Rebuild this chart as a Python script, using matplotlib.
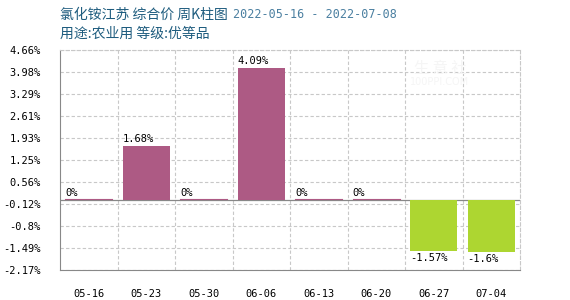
import matplotlib
matplotlib.use("Agg")
import matplotlib.pyplot as plt
import numpy as np

categories = ["05-16", "05-23", "05-30", "06-06", "06-13", "06-20", "06-27", "07-04"]
values = [0.0, 1.68, 0.0, 4.09, 0.0, 0.0, -1.57, -1.6]
labels = ["0%", "1.68%", "0%", "4.09%", "0%", "0%", "-1.57%", "-1.6%"]
ymin, ymax = -2.17, 4.66
title1 = "氯化铵江苏 综合价 周K柱图"
title_dates = "2022-05-16 - 2022-07-08"
title2 = "用途:农业用 等级:优等品"

pink = "#AD5A84"
green = "#ADD631"
mono = ["DejaVu Sans Mono"]
cjk = ["Noto Sans CJK SC", "DejaVu Sans"]

fig = plt.figure(figsize=(5.7, 3.0), dpi=100)
ax = fig.add_axes([60/570, 30/300, 460/570, 220/300])

x = np.arange(len(categories))
w = 0.82
for xi, v, lab in zip(x, values, labels):
    if v > 0:
        ax.bar(xi, v, width=w, color=pink, zorder=3)
        ax.text(xi - w/2, v + 0.06, lab, ha="left", va="bottom", fontsize=7.5, family=mono, zorder=4)
    elif v < 0:
        ax.bar(xi, v, width=w, color=green, zorder=3)
        ax.text(xi - w/2, v - 0.06, lab, ha="left", va="top", fontsize=7.5, family=mono, zorder=4)
    else:
        ax.plot([xi - w/2, xi + w/2], [0.025, 0.025], color=pink, lw=0.8, zorder=3)
        ax.text(xi - w/2, 0.06, lab, ha="left", va="bottom", fontsize=7.5, family=mono, zorder=4)

ax.axhline(0, color="#888888", lw=0.9, zorder=2)

ax.set_xlim(-0.5, len(categories) - 0.5)
ax.set_ylim(ymin, ymax)
yt = np.linspace(ymin, ymax, 11)
ax.set_yticks(yt)
ax.set_yticklabels(["%g%%" % round(v, 2) for v in yt], family=mono, fontsize=7.5)
ax.set_xticks(x)
ax.set_xticklabels(categories, family=mono, fontsize=7.5)
ax.tick_params(length=0, pad=14, axis="x")
ax.tick_params(length=0, pad=14, axis="y")

for yv in yt:
    ax.axhline(yv, color="#C8C8C8", lw=0.8, ls=(0, (3, 2)), zorder=1)
for b in np.arange(0.5, len(categories) - 0.5, 1):
    ax.axvline(b, color="#C8C8C8", lw=0.8, ls=(0, (3, 2)), zorder=1)

ax.spines["left"].set_color("#888888")
ax.spines["bottom"].set_color("#888888")
ax.spines["top"].set_color("#C8C8C8")
ax.spines["top"].set_linestyle((0, (3, 2)))
ax.spines["right"].set_color("#C8C8C8")
ax.spines["right"].set_linestyle((0, (3, 2)))
for s in ax.spines.values():
    s.set_linewidth(0.8)

# watermark
fig.text(440/570, 1 - 68/300, "生 意 社", fontsize=11, color="#F5F5F5", family=cjk, ha="center", va="center", zorder=0)
fig.text(440/570, 1 - 82/300, "100PPI.COM", fontsize=7, color="#F5F5F5", family=["DejaVu Sans"], ha="center", va="center", zorder=0)

fig.text(60/570, 1 - 15/300, title1, fontsize=10, color="#1E5C7E", family=cjk, ha="left", va="center")
fig.text(233/570, 1 - 15/300, title_dates, fontsize=8.5, color="#4A7FA0", family=mono, ha="left", va="center")
fig.text(60/570, 1 - 34/300, title2, fontsize=10, color="#1E5C7E", family=cjk, ha="left", va="center")

fig.savefig("out.png", dpi=100, facecolor="white")
